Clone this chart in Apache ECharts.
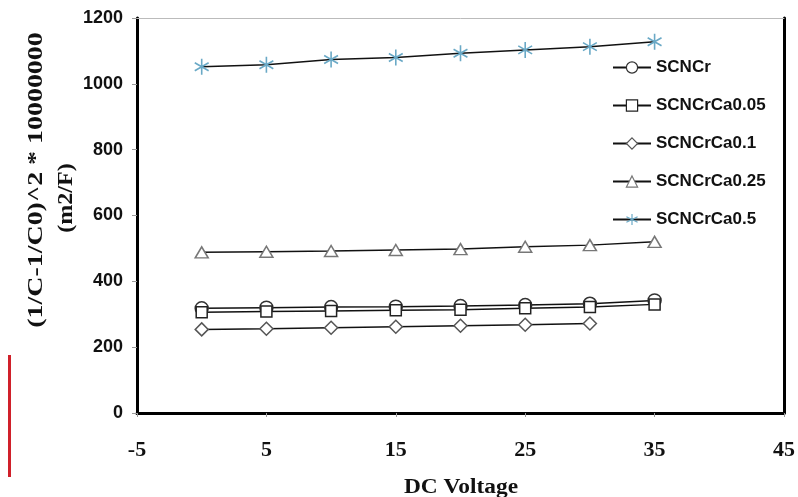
<!DOCTYPE html>
<html><head><meta charset="utf-8">
<script src="https://cdn.jsdelivr.net/npm/echarts@6/dist/echarts.min.js"></script>
<style>html,body{margin:0;padding:0;background:#fff}#c{width:798px;height:497px}</style>
</head><body><div id="c"></div>
<script>
const xVals = [0, 5, 10, 15, 20, 25, 30, 35];
const seriesNames = ['SCNCr', 'SCNCrCa0.05', 'SCNCrCa0.1', 'SCNCrCa0.25', 'SCNCrCa0.5'];
const sSCNCr = [318, 320, 322, 323, 325, 328, 332, 342];
const sCa005 = [306, 308, 310, 312, 314, 318, 322, 330];
const sCa01  = [254, 256, 259, 262, 265, 268, 272];
const sCa025 = [488, 490, 492, 495, 498, 505, 510, 520];
const sCa05  = [1052, 1058, 1074, 1080, 1093, 1103, 1113, 1128];
const yTitle1 = '(1/C-1/C0)^2 * 10000000';
const yTitle2 = '(m2/F)';
const xTitle = 'DC Voltage';

const allData = [sSCNCr, sCa005, sCa01, sCa025, sCa05];
const symbols = ['circle', 'rect', 'diamond', 'triangle',
  'path://M5,0L5,10M0.67,2.5L9.33,7.5M0.67,7.5L9.33,2.5'];
const sizes = [[13,13],[11,11],[13,13],[13,11],[16,16]];
const borders = ['#333','#222','#555','#777','#6aa9c6'];

const chart = echarts.init(document.getElementById('c'), null, {renderer:'canvas'});
const series = allData.map((d, i) => ({
  name: seriesNames[i],
  type: 'line',
  data: d.map((v, j) => [xVals[j], v]),
  symbol: symbols[i],
  symbolSize: sizes[i],
  symbolKeepAspect: true,
  showAllSymbol: true,
  lineStyle: {color: '#111', width: 1.5},
  itemStyle: {color: i === 4 ? 'rgba(0,0,0,0)' : '#fff', borderColor: borders[i], borderWidth: i === 4 ? 1.6 : 1.5},
  z: 2,
  animation: false
}));

chart.setOption({
  animation: false,
  grid: {left: 137, right: 11, top: 18, bottom: 84},
  legend: {
    orient: 'vertical', left: 612, top: 59, padding: 0,
    itemWidth: 38, itemHeight: 14, itemGap: 21,
    data: seriesNames,
    itemStyle: {borderWidth: 1.2},
    textStyle: {fontFamily: 'Liberation Sans', fontWeight: 'bold', fontSize: 17, color: '#111'}
  },
  xAxis: [{
    type: 'value', min: -5, max: 45, interval: 10, position: 'bottom',
    axisLine: {onZero: false, lineStyle: {color: '#000', width: 3}},
    axisTick: {show: true, length: 4, inside: false, lineStyle: {color: '#999', width: 1}},
    splitLine: {show: false},
    axisLabel: {margin: 26, fontFamily: 'Liberation Serif', fontWeight: 'bold', fontSize: 22, color: '#111'}
  }, {
    type: 'value', min: -5, max: 45, interval: 10, position: 'top',
    axisLine: {show: true, onZero: false, lineStyle: {color: '#bbb', width: 1}},
    axisTick: {show: false}, axisLabel: {show: false}, splitLine: {show: false}
  }],
  yAxis: [{
    type: 'value', min: 0, max: 1200, interval: 200, position: 'left',
    axisLine: {show: true, onZero: false, lineStyle: {color: '#000', width: 3}},
    axisTick: {show: true, length: 5, lineStyle: {color: '#999', width: 1}},
    splitLine: {show: false},
    axisLabel: {margin: 14, formatter: v => String(v), fontFamily: 'Liberation Sans', fontWeight: 'bold', fontSize: 18, color: '#111'}
  }, {
    type: 'value', min: 0, max: 1200, interval: 200, position: 'right',
    axisLine: {show: true, onZero: false, lineStyle: {color: '#000', width: 3}},
    axisTick: {show: false}, axisLabel: {show: false}, splitLine: {show: false}
  }],
  graphic: [
    {type: 'text', x: 37, y: 180, rotation: Math.PI/2, scaleX: 1.33,
     style: {text: yTitle1, fontFamily: 'Liberation Serif', fontWeight: 'bold', fontSize: 21, fill: '#111', align: 'center', verticalAlign: 'middle'}},
    {type: 'text', x: 67, y: 198, rotation: Math.PI/2, scaleX: 1.15,
     style: {text: yTitle2, fontFamily: 'Liberation Serif', fontWeight: 'bold', fontSize: 21, fill: '#111', align: 'center', verticalAlign: 'middle'}},
    {type: 'text', x: 461, y: 488, scaleX: 1.17,
     style: {text: xTitle, fontFamily: 'Liberation Serif', fontWeight: 'bold', fontSize: 20, fill: '#111', align: 'center', verticalAlign: 'middle'}},
    {type: 'rect', shape: {x: 8, y: 355, width: 3, height: 122}, style: {fill: '#d0202a'}}
  ],
  series: series
});
</script></body></html>
